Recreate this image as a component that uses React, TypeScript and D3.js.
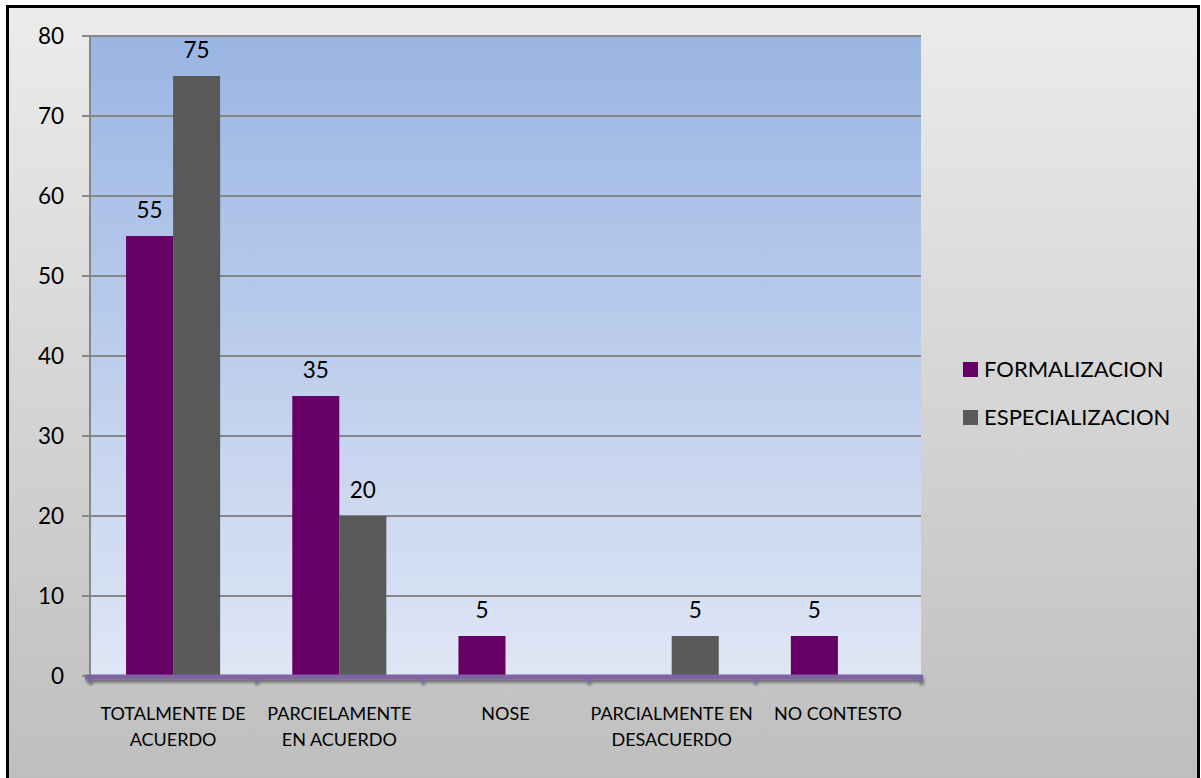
import React from "react";
import * as d3 from "d3";

const categories = [
  ["TOTALMENTE DE", "ACUERDO"],
  ["PARCIELAMENTE", "EN ACUERDO"],
  ["NOSE"],
  ["PARCIALMENTE EN", "DESACUERDO"],
  ["NO CONTESTO"],
];
const categoryKeys = ["TOTALMENTE DE ACUERDO", "PARCIELAMENTE EN ACUERDO", "NOSE", "PARCIALMENTE EN DESACUERDO", "NO CONTESTO"];
const formalizacion = [55, 35, 5, 0, 5];
const especializacion = [75, 20, 0, 5, 0];
const seriesNames = ["FORMALIZACION", "ESPECIALIZACION"];
const seriesColors = ["#660066", "#595959"];
const yTicks = [0, 10, 20, 30, 40, 50, 60, 70, 80];

const W = 1201;
const H = 778;
const FONT = "Lato, 'Open Sans', sans-serif";

export default function App() {
  const left = 90, right = 921, top = 36, bottom = 676;
  const x0 = d3.scaleBand<string>().domain(categoryKeys).range([left, right]).paddingInner(0.434).paddingOuter(0.217);
  const x1 = d3.scaleBand<string>().domain(seriesNames).range([0, x0.bandwidth()]);
  const y = d3.scaleLinear().domain([0, 80]).range([bottom, top]);
  const series = [formalizacion, especializacion];
  const step = (right - left) / categoryKeys.length;

  return (
    <svg width={W} height={H} style={{ position: "absolute", left: 0, top: 0, display: "block" }}>
      <defs>
        <linearGradient id="bg" x1="0" y1="0" x2="0" y2="1">
          <stop offset="0" stopColor="#ececec" />
          <stop offset="1" stopColor="#bebebe" />
        </linearGradient>
        <linearGradient id="plot" x1="0" y1="0" x2="0" y2="1">
          <stop offset="0" stopColor="#9ab5e3" />
          <stop offset="1" stopColor="#dfe6f5" />
        </linearGradient>
        <filter id="sh" x="-5%" y="-50%" width="110%" height="300%">
          <feDropShadow dx="1" dy="3" stdDeviation="1.5" floodColor="#000" floodOpacity="0.45" />
        </filter>
      </defs>
      <rect x={7.5} y={6.5} width={1191} height={780} fill="url(#bg)" stroke="#000" strokeWidth={3} />
      <rect x={left} y={top} width={right - left} height={bottom - top} fill="url(#plot)" />
      {yTicks.map((t) => (
        <g key={t}>
          {t > 0 && <line x1={left} x2={right} y1={y(t)} y2={y(t)} stroke="#878787" strokeWidth={2} />}
          <line x1={82} x2={left} y1={y(t)} y2={y(t)} stroke="#878787" strokeWidth={2} />
          <text x={64} y={y(t)} dy="0.36em" textAnchor="end" fontFamily={FONT} fontSize={22.5} fill="#000">{t}</text>
        </g>
      ))}
      <line x1={left} x2={left} y1={top} y2={bottom} stroke="#878787" strokeWidth={2} />
      {categoryKeys.map((c, i) =>
        series.map((s, j) => {
          const v = s[i];
          if (!v) return null;
          const bx = (x0(c) as number) + (x1(seriesNames[j]) as number);
          const bw = x1.bandwidth();
          return (
            <g key={c + j}>
              <rect x={bx} y={y(v)} width={bw} height={bottom - y(v)} fill={seriesColors[j]} />
              <text x={bx + bw / 2} y={y(v) - 18} textAnchor="middle" fontFamily={FONT} fontSize={22.5} fill="#000">{v}</text>
            </g>
          );
        })
      )}
      <g filter="url(#sh)">
        <line x1={85} x2={923} y1={bottom + 1} y2={bottom + 1} stroke="#8064a2" strokeWidth={5} />
        {d3.range(categoryKeys.length + 1).map((k) => (
          <line key={k} x1={left + k * step} x2={left + k * step} y1={bottom} y2={bottom + 6} stroke="#8064a2" strokeWidth={4} />
        ))}
      </g>
      {categories.map((lines, i) => {
        const cx = (x0(categoryKeys[i]) as number) + x0.bandwidth() / 2;
        return (
          <text key={i} textAnchor="middle" fontFamily={FONT} fontSize={18} fill="#000">
            {lines.map((l, k) => (
              <tspan key={k} x={cx} y={720 + k * 26}>{l}</tspan>
            ))}
          </text>
        );
      })}
      {seriesNames.map((n, j) => (
        <g key={n}>
          <rect x={963} y={362 + j * 48} width={15} height={15} fill={seriesColors[j]} />
          <text x={984} y={377 + j * 48} fontFamily={FONT} fontSize={22} fill="#000">{n}</text>
        </g>
      ))}
    </svg>
  );
}
